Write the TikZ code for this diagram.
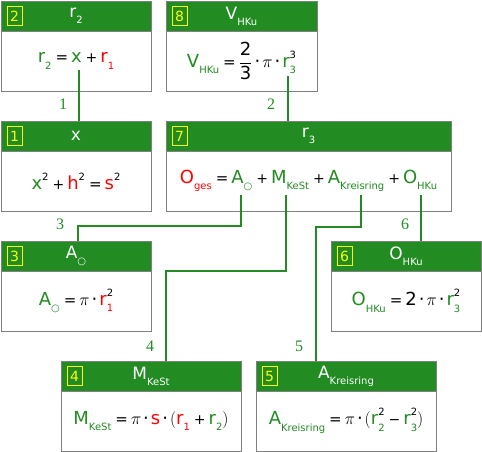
\documentclass[tikz,border=0pt]{standalone}
\usepackage{fontspec}
\setmainfont{DejaVu Sans}
\newfontfamily\lblfont{Liberation Serif}
\definecolor{fg}{HTML}{228B22}
\definecolor{fr}{HTML}{FF0000}
\definecolor{bord}{HTML}{808080}
\definecolor{ny}{HTML}{FFFF00}
\newcommand\G[1]{\textcolor{fg}{#1}}
\newcommand\R[1]{\textcolor{fr}{#1}}
\newcommand\sbs[1]{\raisebox{-0.36em}{\fontsize{10}{10}\selectfont #1}}
\newcommand\sps[1]{\raisebox{0.5em}{\fontsize{10}{10}\selectfont #1}}
\newcommand\sbsp[2]{\makebox[0pt][l]{\sbs{#1}}\sps{#2}}
\newcommand\cdt{\hspace{2pt}·\hspace{2pt}}
\newcommand\EQ{\hspace{4pt}{\fontsize{15}{16}\selectfont =}\hspace{3pt}}
\newcommand\PL{\hspace{4pt}{\fontsize{14}{16}\selectfont +}\hspace{3pt}}
\newcommand\MI{\hspace{4pt}{\fontsize{14}{16}\selectfont −}\hspace{3pt}}
\newcommand\mpi{$\pi$}
\tikzset{
  hdr/.style={draw=bord, line width=1.2pt, fill=fg, anchor=north west, inner sep=0pt, minimum height=30pt},
  bdy/.style={draw=bord, line width=1.2pt, fill=white, anchor=north west, inner sep=0pt, minimum height=60pt},
  numbox/.style={draw=ny, line width=0.9pt, text=ny, inner sep=0pt, minimum width=15pt, minimum height=19pt, font=\fontsize{14}{16}\selectfont},
  ttl/.style={text=white, font=\fontsize{17}{20}\selectfont, inner sep=0pt},
  fml/.style={font=\fontsize{18}{20}\selectfont, inner sep=0pt},
  conn/.style={draw=fg, line width=1.6pt},
  lbl/.style={text=fg, font=\lblfont\fontsize{16}{18}\selectfont, inner sep=0pt}
}
% #1 name, #2 x1, #3 y1, #4 width, #5 number, #6 title, #7 formula
\newcommand\mkbox[7]{%
  \node[hdr, minimum width=#4pt] (h#1) at (#2,#3) {};
  \node[bdy, minimum width=#4pt] (b#1) at (#2,#3+30) {};
  \node[numbox] (n#1) at (#2+13.5,#3+15) {#5};
  \node[ttl] (t#1) at (#2+#4/2,#3+15) {#6};
  \node[fml] (f#1) at (#2+#4/2,#3+60) {#7};
}
\begin{document}
\begin{tikzpicture}[x=1pt,y=-1pt]
\useasboundingbox (0,0) rectangle (482,452);
\mkbox{2}{1}{1}{150}{2}{r\sbs{2}}{\G{r\sbs{2}}\EQ\G{x}\PL\R{r\sbs{1}}}
\mkbox{8}{166}{1}{151}{8}{V\sbs{HKu}}{\G{V\sbs{HKu}}\EQ$\displaystyle\frac{\mbox{2}}{\mbox{3}}$\cdt\mpi\cdt\G{r}\sbsp{\G{3}}{3}}
\mkbox{1}{1}{121}{150}{1}{x}{\G{x}\sps{2}\PL\R{h}\sps{2}\EQ\R{s}\sps{2}}
\mkbox{7}{166}{121}{285}{7}{r\sbs{3}}{\R{O\sbs{ges}}\EQ\G{A\sbs{○}}\PL\G{M\sbs{KeSt}}\PL\G{A\sbs{Kreisring}}\PL\G{O\sbs{HKu}}}
\mkbox{3}{1}{241}{150}{3}{A\sbs{○}}{\G{A\sbs{○}}\EQ\mpi\cdt\R{r}\sbsp{\R{1}}{2}}
\mkbox{6}{331}{241}{150}{6}{O\sbs{HKu}}{\G{O\sbs{HKu}}\EQ 2\cdt\mpi\cdt\G{r}\sbsp{\G{3}}{2}}
\mkbox{4}{61}{361}{180}{4}{M\sbs{KeSt}}{\G{M\sbs{KeSt}}\EQ\mpi\cdt\R{s}\cdt$\big($\R{r\sbs{1}}\PL\G{r\sbs{2}}$\big)$}
\mkbox{5}{256}{361}{180}{5}{A\sbs{Kreisring}}{\G{A\sbs{Kreisring}}\EQ\mpi\cdt$\big($\G{r}\sbsp{\G{2}}{2}\MI\G{r}\sbsp{\G{3}}{2}$\big)$}
% connector start points under the formula parts
\coordinate (s1) at (79,70);
\coordinate (s2) at (288,76);
\coordinate (s3) at (241,195);
\coordinate (s4) at (286,195);
\coordinate (s5) at (361,195);
\coordinate (s6) at (421,195);
\coordinate (k3) at (78,226);
\coordinate (k4) at (166,271);
\coordinate (k5) at (316,227);
\draw[conn] (s1) -- (s1 |- h1.north);
\draw[conn] (s2) -- (s2 |- h7.north);
\draw[conn] (s3) |- (k3) -- (k3 |- h3.north);
\draw[conn] (s4) |- (k4) -- (k4 |- h4.north);
\draw[conn] (s5) |- (k5) -- (k5 |- h5.north);
\draw[conn] (s6) -- (s6 |- h6.north);
\node[lbl] (l1) at (63,104) {1};
\node[lbl] (l2) at (271,104) {2};
\node[lbl] (l3) at (60,224) {3};
\node[lbl] (l4) at (150,346) {4};
\node[lbl] (l5) at (299,346) {5};
\node[lbl] (l6) at (405,224) {6};
\end{tikzpicture}
\end{document}
